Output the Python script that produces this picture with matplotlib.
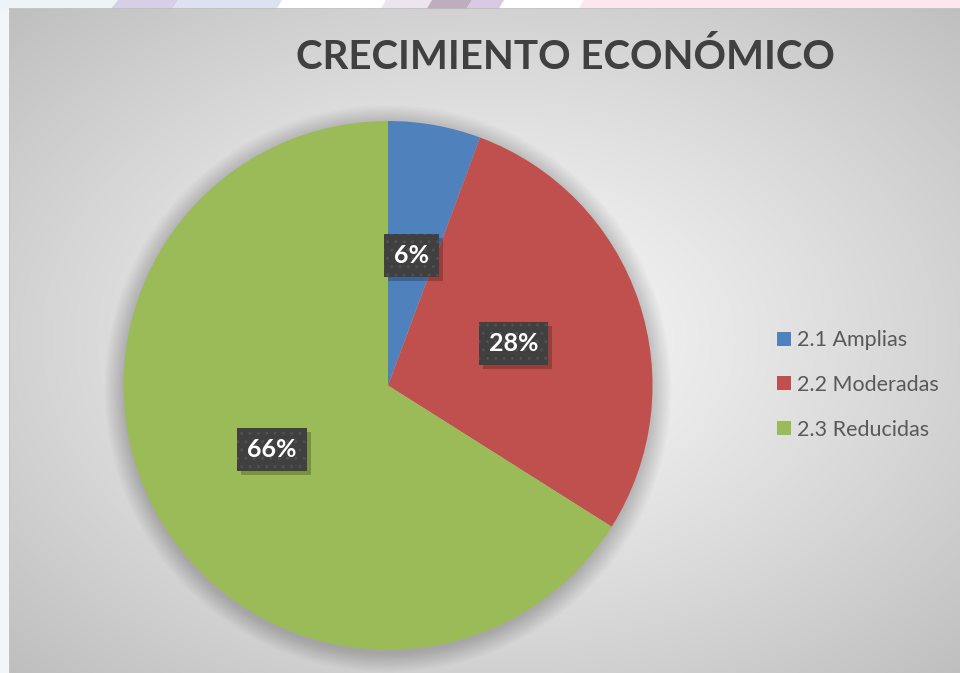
import numpy as np
import matplotlib
matplotlib.use("Agg")
import matplotlib.pyplot as plt
from matplotlib.patches import Polygon, Rectangle, Circle

# ---- data ----
title = "CRECIMIENTO ECONÓMICO"
categories = ["2.1 Amplias", "2.2 Moderadas", "2.3 Reducidas"]
values = [3, 15, 35]
colors = ["#4F81BD", "#C0504D", "#9BBB59"]

W, H = 960, 673
fig = plt.figure(figsize=(W / 100, H / 100), dpi=100)
fig.patch.set_facecolor("white")

# ---- page strip / watermark (pixel coordinates) ----
page = fig.add_axes([0, 0, 1, 1])
page.set_xlim(0, W)
page.set_ylim(H, 0)
page.axis("off")
page.add_patch(Rectangle((0, 0), W, H, color="#ffffff", lw=0))
page.add_patch(Rectangle((0, 0), 12, H, color="#f3f6f9", lw=0))
strips = [
    ([0, 118, 110, 0], "#eef3f7"),
    ([118, 178, 172, 110], "#d6d0e6"),
    ([178, 282, 276, 172], "#dde1f0"),
    ([386, 432, 426, 380], "#ece4ee"),
    ([432, 472, 466, 426], "#beadbe"),
    ([472, 504, 498, 466], "#d9c9e3"),
    ([584, 960, 960, 578], "#fde7ef"),
]
for xs, c in strips:
    page.add_patch(Polygon([(xs[0], 0), (xs[1], 0), (xs[2], 10), (xs[3], 10)],
                           closed=True, color=c, lw=0))

# ---- chart area with radial gradient ----
x0, y0 = 10, 9
bg = fig.add_axes([x0 / W, 0, (W - x0) / W, (H - y0) / H])
bg.axis("off")
gx, gy = np.meshgrid(np.linspace(0, W - x0, 400), np.linspace(0, H - y0, 300))
cx, cy = 480, 330
d = np.sqrt(((gx - cx) / 480) ** 2 + ((gy - cy) / 330) ** 2) / 1.414
g = 249 - 58 * np.clip(d, 0, 1.1) ** 1.15
img = np.dstack([g, g, g]) / 255.0
bg.imshow(img, aspect="auto", extent=[0, 1, 1, 0], interpolation="bilinear")
bg.set_xlim(0, 1)
bg.set_ylim(1, 0)
page.plot([x0, x0], [y0, H], color="#bcbcbc", lw=1.2, zorder=5)
page.plot([x0, W], [y0, y0], color="#bcbcbc", lw=1.2, zorder=5)
page.set_zorder(0)
bg.set_zorder(1)

# ---- pie ----
pcx, pcy, R = 388, 385.5, 264.5
pax = fig.add_axes([(pcx - R) / W, (H - pcy - R) / H, 2 * R / W, 2 * R / H])
pax.set_zorder(2)
pax.set_xlim(-1, 1)
pax.set_ylim(-1, 1)
pax.axis("off")

# soft shadow
for k in range(16):
    pax.add_patch(Circle((0.0, -0.012), 1 + k * 0.0048, color="black",
                         alpha=0.012, lw=0, clip_on=False, zorder=0))

wedges, texts, autotexts = pax.pie(
    values, colors=colors, startangle=90, counterclock=False,
    radius=1, autopct=lambda p: f"{p:.0f}%", pctdistance=0.5,
    wedgeprops=dict(linewidth=0), frame=False,
    textprops=dict(color="white", fontsize=18, fontweight="bold", family="Lato"))
pax.set_xlim(-1, 1)
pax.set_ylim(-1, 1)
for w in wedges:
    w.set_zorder(1)

for t in autotexts:
    t.set_zorder(4)
    t.set_bbox(dict(boxstyle="square,pad=0.4", facecolor="#404040",
                    edgecolor="#505050", linewidth=0, hatch=".."))

# box shadows computed from the rendered label boxes
fig.canvas.draw()
renderer = fig.canvas.get_renderer()
inv = pax.transData.inverted()
for t in autotexts:
    bb = t.get_bbox_patch().get_window_extent(renderer)
    ax0, ay0 = inv.transform((bb.x0 + 4, bb.y0 - 4))
    ax1, ay1 = inv.transform((bb.x1 + 4, bb.y1 - 4))
    pax.add_patch(Rectangle((ax0, ay0), ax1 - ax0, ay1 - ay0, facecolor="black",
                            alpha=0.22, lw=0, zorder=3))

# ---- title ----
fig.text(565 / W, 1 - 57 / H, title, ha="center", va="center",
         fontsize=29, fontweight="bold", family="Lato", color="#404040", zorder=10)

# ---- legend ----
leg = fig.legend(wedges, categories, loc="center left",
                 bbox_to_anchor=(758 / W, 1 - 385 / H), frameon=False,
                 prop=dict(family="Lato", size=15.5), labelcolor="#595959",
                 handlelength=0.62, handleheight=0.62, handletextpad=0.3,
                 labelspacing=1.15)
leg.set_zorder(10)

fig.savefig("out.png", dpi=100)
